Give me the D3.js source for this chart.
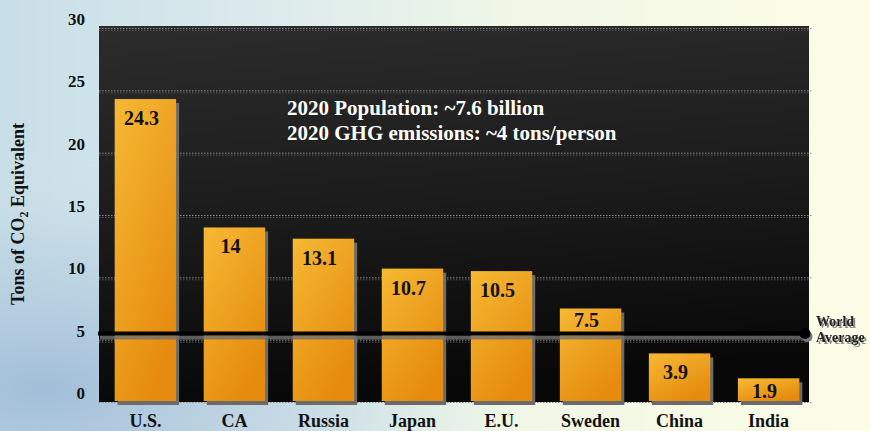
<!DOCTYPE html>
<html><head><meta charset="utf-8">
<script src="https://cdn.jsdelivr.net/npm/d3@7"></script>
<style>html,body{margin:0;padding:0;overflow:hidden;background:#fff}</style>
</head><body>
<svg id="chart" width="870" height="431"></svg>
<script>
const categories = ["U.S.", "CA", "Russia", "Japan", "E.U.", "Sweden", "China", "India"];
const emissions = [24.3, 14, 13.1, 10.7, 10.5, 7.5, 3.9, 1.9];
const valueLabels = ["24.3", "14", "13.1", "10.7", "10.5", "7.5", "3.9", "1.9"];
const yTicks = [0, 5, 10, 15, 20, 25, 30];
const worldAverage = 5.5;
const notes = ["2020 Population: ~7.6 billion", "2020 GHG emissions: ~4 tons/person"];

const svg = d3.select("#chart");
const font = "'Liberation Serif','Times New Roman',serif";
const defs = svg.append("defs");

// background gradients
const bg = defs.append("linearGradient").attr("id","bg").attr("x1","0").attr("x2","1").attr("y1","0").attr("y2","0");
bg.append("stop").attr("offset","0").attr("stop-color","#c8dee8");
bg.append("stop").attr("offset","0.3").attr("stop-color","#dbeaec");
bg.append("stop").attr("offset","0.6").attr("stop-color","#f0f7e6");
bg.append("stop").attr("offset","1").attr("stop-color","#fdfde6");
const earth = defs.append("radialGradient").attr("id","earth").attr("cx","0.05").attr("cy","0.9").attr("r","0.55");
earth.append("stop").attr("offset","0").attr("stop-color","#9db9d6").attr("stop-opacity","0.9");
earth.append("stop").attr("offset","0.6").attr("stop-color","#b7cfe0").attr("stop-opacity","0.5");
earth.append("stop").attr("offset","1").attr("stop-color","#d8e8ea").attr("stop-opacity","0");
const plotG = defs.append("linearGradient").attr("id","plotbg").attr("x1","0").attr("x2","0.15").attr("y1","0").attr("y2","1");
plotG.append("stop").attr("offset","0").attr("stop-color","#2c2c2c");
plotG.append("stop").attr("offset","0.5").attr("stop-color","#1c1c1c");
plotG.append("stop").attr("offset","1").attr("stop-color","#080808");
const barG = defs.append("linearGradient").attr("id","bar").attr("x1","0").attr("x2","0.6").attr("y1","0").attr("y2","1");
barG.append("stop").attr("offset","0").attr("stop-color","#f6b933");
barG.append("stop").attr("offset","1").attr("stop-color","#e68b0e");
const shadowF = defs.append("filter").attr("id","tshadow").attr("x","-10%").attr("y","-30%").attr("width","130%").attr("height","170%");
shadowF.append("feOffset").attr("in","SourceAlpha").attr("dx",2).attr("dy",2).attr("result","off");
shadowF.append("feFlood").attr("flood-color","#8a8a8a").attr("result","col");
shadowF.append("feComposite").attr("in","col").attr("in2","off").attr("operator","in").attr("result","sh");
const fm = shadowF.append("feMerge");
fm.append("feMergeNode").attr("in","sh");
fm.append("feMergeNode").attr("in","SourceGraphic");

svg.append("rect").attr("width",870).attr("height",431).attr("fill","url(#bg)");
svg.append("rect").attr("width",870).attr("height",431).attr("fill","url(#earth)");

const plot = {left: 99, right: 809, top: 26, bottom: 402};
const y = d3.scaleLinear().domain([0, 30]).range([plot.bottom, 28]);
const x = d3.scaleBand().domain(categories).range([104, 810]).paddingInner(0.31).paddingOuter(0.12);

svg.append("rect").attr("x",plot.left).attr("y",plot.top)
  .attr("width",plot.right-plot.left).attr("height",plot.bottom-plot.top).attr("fill","url(#plotbg)");

// gridlines
const grid = svg.append("g");
grid.selectAll("line.g1").data(yTicks).join("line")
  .attr("x1",plot.left).attr("x2",plot.right+3)
  .attr("y1",d=>y(d)+0.5).attr("y2",d=>y(d)+0.5)
  .attr("stroke","#8a8a8a").attr("stroke-width",1).attr("stroke-dasharray","1.5,1.5");
grid.selectAll("line.g2").data(yTicks.filter(d=>d>0)).join("line")
  .attr("x1",plot.left).attr("x2",plot.right)
  .attr("y1",d=>y(d)+2.5).attr("y2",d=>y(d)+2.5)
  .attr("stroke","#555").attr("stroke-width",1).attr("stroke-dasharray","1.5,1.5");

// y tick labels
svg.append("g").selectAll("text").data(yTicks).join("text")
  .attr("x",85).attr("y",d=>y(d)-3)
  .attr("text-anchor","end").attr("font-family",font).attr("font-weight","bold")
  .attr("font-size",17).attr("fill","#111").text(d=>d);

// bars
const wy = y(worldAverage);
const bars = svg.append("g");
const rows = categories.map((c,i)=>({c, v: emissions[i], l: valueLabels[i]}));
bars.selectAll("rect.sh").data(rows).join("rect")
  .attr("x",d=>x(d.c)+3).attr("y",d=>y(d.v)+4)
  .attr("width",x.bandwidth()).attr("height",d=>y(0)-y(d.v)-1)
  .attr("fill","#6b6b6b");
bars.selectAll("rect.b").data(rows).join("rect")
  .attr("x",d=>x(d.c)).attr("y",d=>y(d.v))
  .attr("width",x.bandwidth()).attr("height",d=>y(0)-y(d.v)-1)
  .attr("fill","url(#bar)");
function labelY(v){
  let b = Math.min(y(v)+26, y(0)-4);
  if (b > wy-4 && b < wy+18) b = wy-6;
  return b;
}
bars.selectAll("text").data(rows).join("text")
  .attr("x",d=>x(d.c)+x.bandwidth()/2-4)
  .attr("y",d=>labelY(d.v))
  .attr("text-anchor","middle").attr("font-family",font).attr("font-weight","bold")
  .attr("font-size",20).attr("fill","#111").text(d=>d.l);

// world average line
svg.append("line").attr("x1",100).attr("x2",808).attr("y1",wy+4).attr("y2",wy+4)
  .attr("stroke","#707070").attr("stroke-width",4).attr("opacity",0.8);
svg.append("circle").attr("cx",807).attr("cy",wy+3).attr("r",5.5).attr("fill","#777");
svg.append("line").attr("x1",98).attr("x2",805).attr("y1",wy).attr("y2",wy)
  .attr("stroke","#000").attr("stroke-width",4);
svg.append("circle").attr("cx",805).attr("cy",wy).attr("r",5.5).attr("fill","#000");
svg.append("text").attr("x",816).attr("y",wy-7)
  .attr("font-family",font).attr("font-weight","bold").attr("font-size",14)
  .attr("fill","#222").attr("filter","url(#tshadow)")
  .selectAll("tspan").data(["World","Average"]).join("tspan")
  .attr("x",816).attr("dy",(d,i)=>i?16:0).text(d=>d);

// x labels
svg.append("g").selectAll("text").data(categories).join("text")
  .attr("x",d=>x(d)+x.bandwidth()/2)
  .attr("y",427)
  .attr("text-anchor","middle").attr("font-family",font).attr("font-weight","bold")
  .attr("font-size",18).attr("fill","#111").text(d=>d);

// notes
svg.append("g").selectAll("text").data(notes).join("text")
  .attr("x",287).attr("y",(d,i)=>115+i*25)
  .attr("font-family",font).attr("font-weight","bold").attr("font-size",21)
  .attr("fill","#fff").text(d=>d);

// y axis title
const yt = svg.append("text").attr("transform","translate(24,214) rotate(-90)")
  .attr("text-anchor","middle").attr("font-family",font).attr("font-weight","bold")
  .attr("font-size",18).attr("fill","#111");
yt.append("tspan").text("Tons of CO");
yt.append("tspan").attr("font-size",12).attr("dy",4).text("2");
yt.append("tspan").attr("dy",-4).text(" Equivalent");
</script>
</body></html>
